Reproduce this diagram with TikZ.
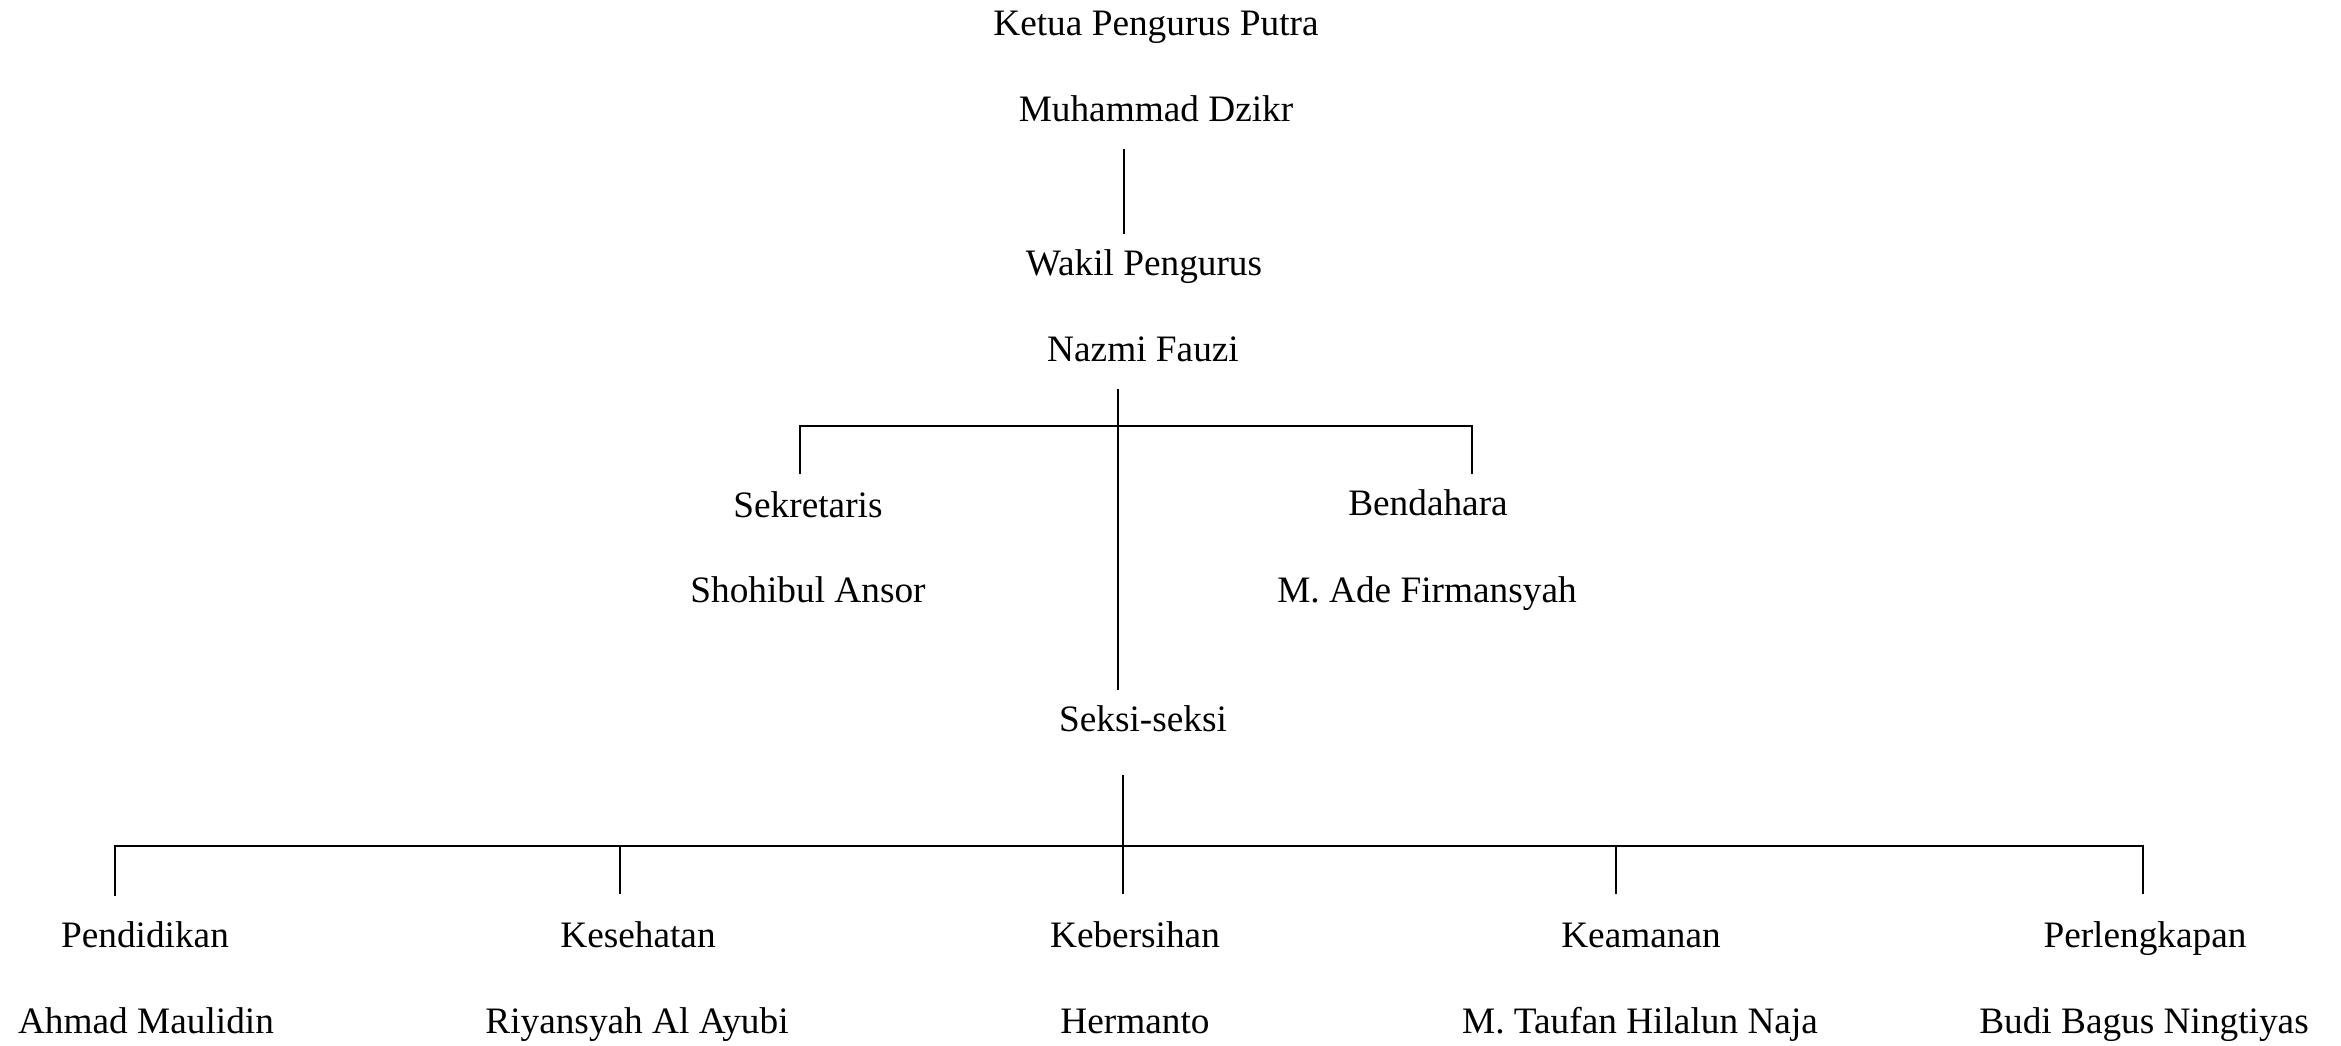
\documentclass[tikz,border=0pt]{standalone}
\usepackage{fontspec}
\setmainfont{Liberation Serif}
\begin{document}
\begin{tikzpicture}[x=0.5pt,y=-0.5pt,
  lbl/.style={anchor=base,inner sep=0pt,font=\fontsize{18.65pt}{22pt}\selectfont},
  vline/.style={line width=0.75pt},
  hline/.style={line width=1pt}]
\useasboundingbox (0,0) rectangle (2341,1045);
% texts
\node[lbl] (k1) at (1156,35) {Ketua Pengurus Putra};
\node[lbl] (k2) at (1156,121) {Muhammad Dzikr};
\node[lbl] (w1) at (1144,275) {Wakil Pengurus};
\node[lbl] (w2) at (1143,361) {Nazmi Fauzi};
\node[lbl] (s1) at (808,517) {Sekretaris};
\node[lbl] (s2) at (808,602) {Shohibul Ansor};
\node[lbl] (b1) at (1428,515) {Bendahara};
\node[lbl] (b2) at (1427,602) {M. Ade Firmansyah};
\node[lbl] (ss) at (1143,731) {Seksi-seksi};
\node[lbl] (p1) at (145,947) {Pendidikan};
\node[lbl] (p2) at (146,1033) {Ahmad Maulidin};
\node[lbl] (h1) at (638,947) {Kesehatan};
\node[lbl] (h2) at (637,1033) {Riyansyah Al Ayubi};
\node[lbl] (c1) at (1135,947) {Kebersihan};
\node[lbl] (c2) at (1135,1033) {Hermanto};
\node[lbl] (a1) at (1641,947) {Keamanan};
\node[lbl] (a2) at (1640,1033) {M. Taufan Hilalun Naja};
\node[lbl] (l1) at (2145,947) {Perlengkapan};
\node[lbl] (l2) at (2144,1033) {Budi Bagus Ningtiyas};
% connector points
\coordinate (kTop) at (1124,149);
\coordinate (kBot) at (1124,234);
\coordinate (wTop) at (1118,389);
\coordinate (wBot) at (1118,690);
\coordinate (wMid) at (1118,426);
\coordinate (sH) at (800,426);
\coordinate (sD) at (800,474);
\coordinate (bH) at (1472,426);
\coordinate (bD) at (1472,474);
\coordinate (sTop) at (1123,775);
\coordinate (sBot) at (1123,894);
\coordinate (pH) at (115,846);
\coordinate (pD) at (115,896);
\coordinate (hH) at (620,846);
\coordinate (hD) at (620,894);
\coordinate (aH) at (1616,846);
\coordinate (aD) at (1616,894);
\coordinate (lH) at (2143,846);
\coordinate (lD) at (2143,894);
% connectors
\draw[vline] (kTop) -- (kBot);
\draw[vline] (wTop) -- (wBot);
\draw[hline] (sD) -- (sH) -- (bH) -- (bD);
\draw[vline] (sTop) -- (sBot);
\draw[hline] (pD) -- (pH) -- (lH) -- (lD);
\draw[vline] (hH) -- (hD);
\draw[vline] (aH) -- (aD);
\end{tikzpicture}
\end{document}
